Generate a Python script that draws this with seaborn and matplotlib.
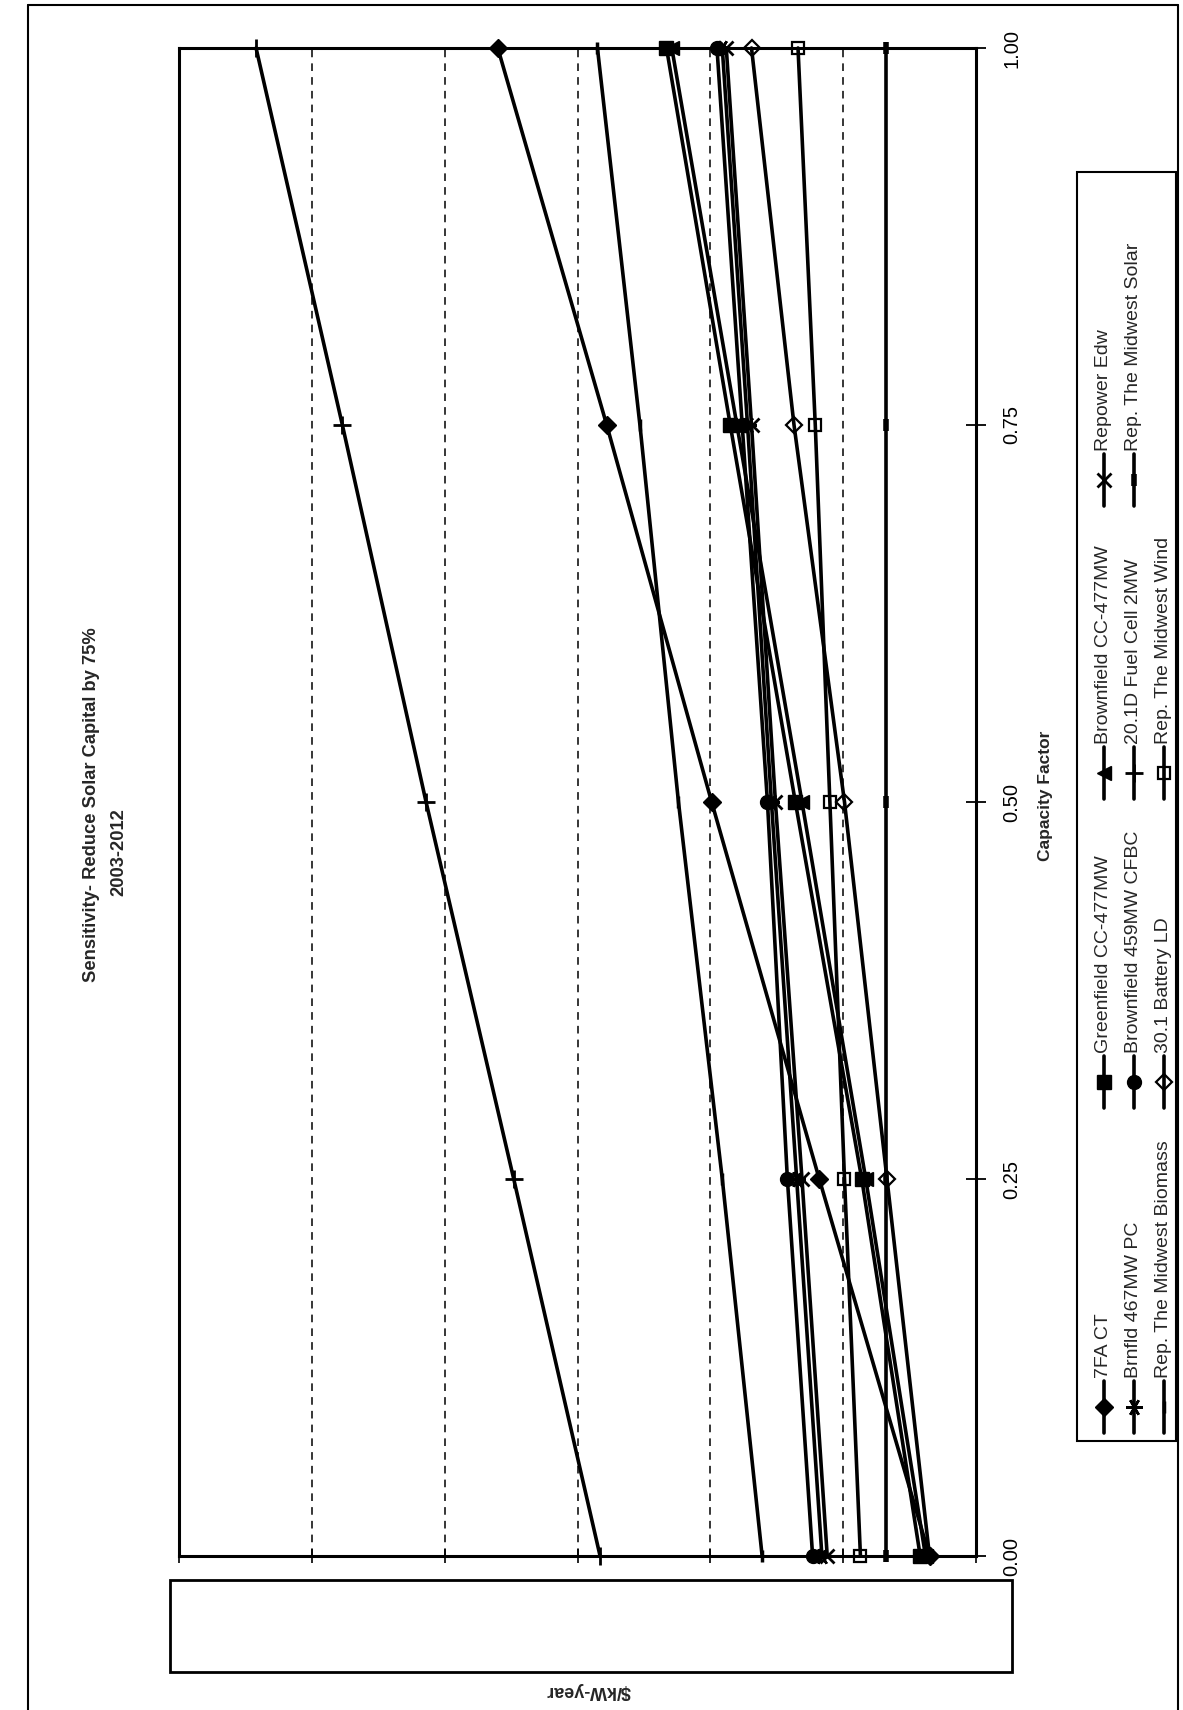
import numpy as np
import pandas as pd
import matplotlib.pyplot as plt
import seaborn as sns
from matplotlib.lines import Line2D
from matplotlib.patches import Rectangle

cf = [0.0, 0.25, 0.5, 0.75, 1.0]
fa7_ct = [35, 118, 199, 278, 360]
greenfield_cc = [42, 86, 136, 185, 233]
brownfield_cc = [38, 83, 131, 180, 229]
repower_edw = [112, 131, 151, 169, 188]
brnfld_pc = [116, 135, 154, 172, 191]
brownfield_cfbc = [123, 142, 157, 176, 195]
fuel_cell = [283, 348, 414, 477, 542]
solar = [68, 68, 68, 68, 68]
biomass = [161, 191, 224, 253, 285]
battery = [35, 67, 99, 137, 169]
wind = [87, 99, 110, 121, 134]

names = ["7FA CT", "Greenfield CC-477MW", "Brownfield CC-477MW", "Repower Edw",
         "Brnfld 467MW PC", "Brownfield 459MW CFBC", "20.1D Fuel Cell 2MW", "Rep. The Midwest Solar",
         "Rep. The Midwest Biomass", "30.1 Battery LD", "Rep. The Midwest Wind"]
values = [fa7_ct, greenfield_cc, brownfield_cc, repower_edw,
          brnfld_pc, brownfield_cfbc, fuel_cell, solar,
          biomass, battery, wind]
cost_ticks = [0, 100, 200, 300, 400, 500, 600]
cf_labels = ["0.00", "0.25", "0.50", "0.75", "1.00"]

# marker, size, face, edge width  (the page is turned 90 degrees, so the triangle points left)
styles = [("D", 9, "black", 1), ("s", 10, "black", 1), ("<", 10, "black", 1), ("x", 10, "black", 2),
          ((6, 2, 90), 12, "black", 1.8), ("o", 10, "black", 1), ("+", 13, "black", 2), ("|", 9, "black", 4),
          ("|", 9, "black", 2.5), ("D", 8, "none", 1.6), ("s", 9, "none", 1.6)]

sns.set_theme(style="white")
plt.rcParams["font.family"] = ["Liberation Sans", "DejaVu Sans"]

W, H = 1183, 1710
def fx(x): return x / W
def fy(y): return 1 - y / H

fig = plt.figure(figsize=(W / 100, H / 100), dpi=100)
ax = fig.add_axes([fx(179), fy(1556), fx(976) - fx(179), fy(48) - fy(1556)])

for name, vals, (m, ms, mfc, mew) in zip(names, values, styles):
    sns.lineplot(x=vals, y=cf, ax=ax, color="black", lw=2.6, marker=m, markersize=ms,
                 markerfacecolor=mfc, markeredgecolor="black", markeredgewidth=mew,
                 estimator=None, sort=False, orient="y", legend=False, clip_on=False, zorder=3)

ax.set_xlim(600, 0)
ax.set_ylim(0, 1)
ax.set_xticks(cost_ticks)
ax.set_xticklabels([])
ax.set_yticks(cf)
ax.set_yticklabels(cf_labels)
ax.yaxis.tick_right()
ax.tick_params(axis="y", direction="inout", length=14, width=1.3, right=True, left=False,
               labelsize=14.5, pad=12, colors="black")
for lab in ax.get_yticklabels():
    lab.set_rotation(90)
    lab.set_va("center")
    lab.set_ha("left")
ax.tick_params(axis="x", direction="inout", length=10, width=1.2, bottom=True, colors="black")
ax.grid(axis="x", color="black", lw=1.1, linestyle=(0, (5, 4)))
ax.grid(axis="y", visible=False)
for s in ax.spines.values():
    s.set_color("black")
    s.set_linewidth(2.2)

ax.set_ylabel("Capacity Factor", fontsize=12.5, fontweight="bold", rotation=90)
ax.yaxis.set_label_position("right")
ax.yaxis.set_label_coords(1.078, 0.504)
ax.set_xlabel("$/kW-year", fontsize=13, fontweight="bold", rotation=180)
ax.xaxis.set_label_coords(0.514, -0.0836)

# box hiding the cost labels
fig.add_artist(Rectangle((fx(170), fy(1672)), fx(1012) - fx(170), fy(1580) - fy(1672),
                         transform=fig.transFigure, fc="white", ec="black", lw=2))

fig.text(fx(92), fy(805), "Sensitivity- Reduce Solar Capital by 75%", rotation=90,
         ha="center", va="center", fontsize=13.2, fontweight="bold")
fig.text(fx(119), fy(852), "2003-2012", rotation=90, ha="center", va="center",
         fontsize=13.2, fontweight="bold")

# legend, turned with the page
fig.add_artist(Rectangle((fx(1077), fy(1441)), fx(1176) - fx(1077), fy(172) - fy(1441),
                         transform=fig.transFigure, fc="white", ec="black", lw=1.5))
rows_x = [1104, 1134, 1164]
cols_y = [1407, 1082, 773, 480]
for i, (name, (m, ms, mfc, mew)) in enumerate(zip(names, styles)):
    x = rows_x[i // 4]
    yc = cols_y[i % 4]
    fig.add_artist(Line2D([fx(x), fx(x)], [fy(yc + 26), fy(yc - 26)], transform=fig.transFigure,
                          color="black", lw=2.6))
    fig.add_artist(Line2D([fx(x)], [fy(yc)], transform=fig.transFigure, marker=m, markersize=ms,
                          markerfacecolor=mfc, markeredgecolor="black", markeredgewidth=mew, lw=0))
    fig.text(fx(x), fy(yc - 29), name, rotation=90, rotation_mode="anchor", ha="left",
             va="center", fontsize=14)

# page border
fig.add_artist(Line2D([fx(28), fx(28)], [fy(5), fy(1710)], transform=fig.transFigure, color="black", lw=1.5))
fig.add_artist(Line2D([fx(28), fx(1178)], [fy(5), fy(5)], transform=fig.transFigure, color="black", lw=1.5))
fig.add_artist(Line2D([fx(1178), fx(1178)], [fy(5), fy(1710)], transform=fig.transFigure, color="black", lw=1.5))

fig.savefig("out.png", dpi=100)
